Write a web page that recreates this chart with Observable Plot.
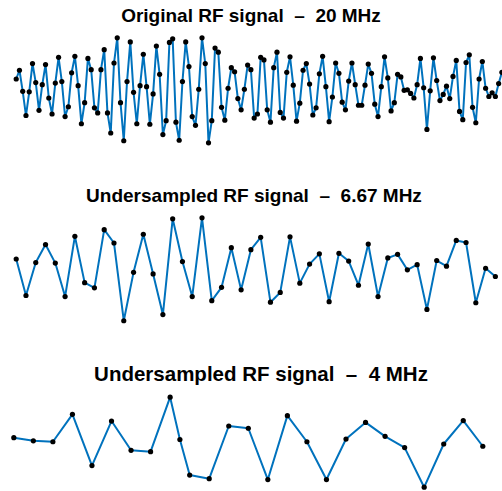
<!DOCTYPE html>
<html><head><meta charset="utf-8">
<script src="https://cdn.jsdelivr.net/npm/d3@7"></script>
<script src="https://cdn.jsdelivr.net/npm/@observablehq/plot@0.6"></script>
<style>
html,body{margin:0;padding:0;background:#fff;overflow:hidden}
#wrap{position:relative;width:502px;height:491px;overflow:hidden}
.title{position:absolute;left:0;width:502px;text-align:center;font-family:"Liberation Sans",Arial,sans-serif;font-weight:bold;white-space:pre;color:#000}
.panel{position:absolute;left:0}
.panel svg{overflow:visible}
</style></head><body><div id="wrap"></div>
<script>
const titles = [
  "Original RF signal  \u2013  20 MHz",
  "Undersampled RF signal  \u2013  6.67 MHz",
  "Undersampled RF signal  \u2013  4 MHz"
];

// Original RF signal sampled at 20 MHz (150 samples, normalised amplitude)
const originalSignal = [
  0.20, 0.37, -0.04, -0.51, -0.05, 0.50, 0.13, -0.41, 0.09, 0.48,
  -0.17, -0.48, 0.12, 0.62, 0.15, -0.53, -0.34, 0.32, 0.64, 0.07,
  -0.67, -0.26, 0.60, 0.38, -0.36, -0.46, 0.38, 0.77, -0.46, -0.85,
  0.51, 1.00, -0.26, -1.00, 0.15, 0.92, -0.06, -0.67, 0.07, 0.68,
  0.05, -0.68, -0.09, 0.84, 0.29, -0.88, -0.61, 0.91, 0.98, -0.64,
  -0.99, 0.15, 0.92, 0.44, -0.53, -0.70, 0.00, 1.00, 0.50, -1.04,
  -0.61, 0.80, 0.72, -0.35, -0.60, 0.02, 0.42, 0.34, -0.18, -0.40,
  0.00, 0.47, 0.38, -0.56, -0.48, 0.62, 0.57, -0.40, -0.64, 0.42,
  0.72, -0.45, -0.56, 0.33, 0.63, 0.08, -0.62, -0.27, 0.37, 0.50,
  0.10, -0.50, -0.36, 0.30, 0.64, 0.05, -0.63, -0.15, 0.51, 0.31,
  -0.25, -0.40, 0.16, 0.51, 0.09, -0.31, -0.31, 0.08, 0.49, 0.31,
  -0.29, -0.53, 0.05, 0.63, 0.22, -0.42, -0.26, 0.29, 0.24, -0.02,
  -0.01, -0.08, -0.17, 0.09, 0.60, 0.03, -0.78, -0.03, 0.61, 0.17,
  -0.22, -0.10, 0.06, -0.18, 0.25, 0.56, -0.43, -0.59, 0.52, 0.67,
  -0.35, -0.65, 0.20, 0.54, 0.02, -0.14, -0.07, -0.14, 0.11, 0.33
];
const originalIndex = d3.range(0, 150);

// Undersampled at 6.67 MHz (every 3rd original sample)
const under667Signal = [
  0.20, -0.51, 0.13, 0.48, 0.12, -0.53, 0.64, -0.26, -0.36, 0.77,
  0.51, -1.00, -0.06, 0.68, -0.09, -0.88, 0.98, 0.15, -0.53, 1.00,
  -0.61, -0.35, 0.42, -0.40, 0.38, 0.62, -0.64, -0.45, 0.63, -0.27,
  0.10, 0.30, -0.63, 0.31, 0.16, -0.31, 0.49, -0.53, 0.22, 0.29,
  -0.01, 0.09, -0.78, 0.17, 0.06, 0.56, 0.52, -0.65, 0.02, -0.14
];
const under667Index = d3.range(0, 150, 3);

// Undersampled at 4 MHz
const under4Signal = [
  0.10, 0.03, 0.01, 0.62, -0.52, 0.47, -0.18, -0.21, 1.00, 0.06,
  -0.73, -0.81, 0.36, 0.31, -0.83, 0.59, 0.01, -0.83, 0.07, 0.44,
  0.13, -0.12, -1.00, -0.04, 0.48, -0.09
];
const under4Index = [
  0, 1, 2, 3, 4, 5, 6, 7, 8, 8.5,
  9, 10, 11, 12, 13, 14, 15, 16, 17, 18,
  19, 20, 21, 22, 23, 24
];

function panel(xs, ys, cfg) {
  const data = xs.map((x, i) => ({x, y: ys[i]}));
  return Plot.plot({
    width: 502, height: cfg.height,
    marginLeft: cfg.ml, marginRight: cfg.mr, marginTop: cfg.mt, marginBottom: cfg.mb,
    x: {domain: cfg.xDomain, axis: null},
    y: {domain: cfg.yDomain, axis: null},
    marks: [
      Plot.line(data, {x: "x", y: "y", stroke: "#0072BD", strokeWidth: 2}),
      Plot.dot(data, {x: "x", y: "y", r: 2.6, fill: "black", stroke: "none"})
    ]
  });
}

const wrap = document.getElementById("wrap");
const panels = [
  {xs: originalIndex, ys: originalSignal, top: 0, title: titles[0], titleTop: 6, titleShift: 0, titleSize: 19,
   cfg: {height: 150, ml: 15.7, mr: 0.6, mt: 37.3, mb: 7.7, xDomain: [0, 149], yDomain: [-1.04, 1.0]}},
  {xs: under667Index, ys: under667Signal, top: 180, title: titles[1], titleTop: 186, titleShift: 3, titleSize: 19,
   cfg: {height: 150, ml: 15.7, mr: 0.6, mt: 37.3, mb: 7.7, xDomain: [0, 149], yDomain: [-1.04, 1.0]}},
  {xs: under4Index, ys: under4Signal, top: 370, title: titles[2], titleTop: 364, titleShift: 10, titleSize: 20.5,
   cfg: {height: 121, ml: 13.3, mr: 19.7, mt: 26.7, mb: 4.3, xDomain: [0, 24], yDomain: [-1, 1]}}
];
for (const p of panels) {
  const d = document.createElement("div");
  d.className = "panel";
  d.style.top = p.top + "px";
  d.appendChild(panel(p.xs, p.ys, p.cfg));
  wrap.appendChild(d);
}
for (const p of panels) {
  const t = document.createElement("div");
  t.className = "title";
  t.style.top = p.titleTop + "px";
  t.style.left = p.titleShift + "px";
  t.style.fontSize = p.titleSize + "px";
  t.style.lineHeight = p.titleSize + "px";
  t.textContent = p.title;
  wrap.appendChild(t);
}
</script>
</body></html>
